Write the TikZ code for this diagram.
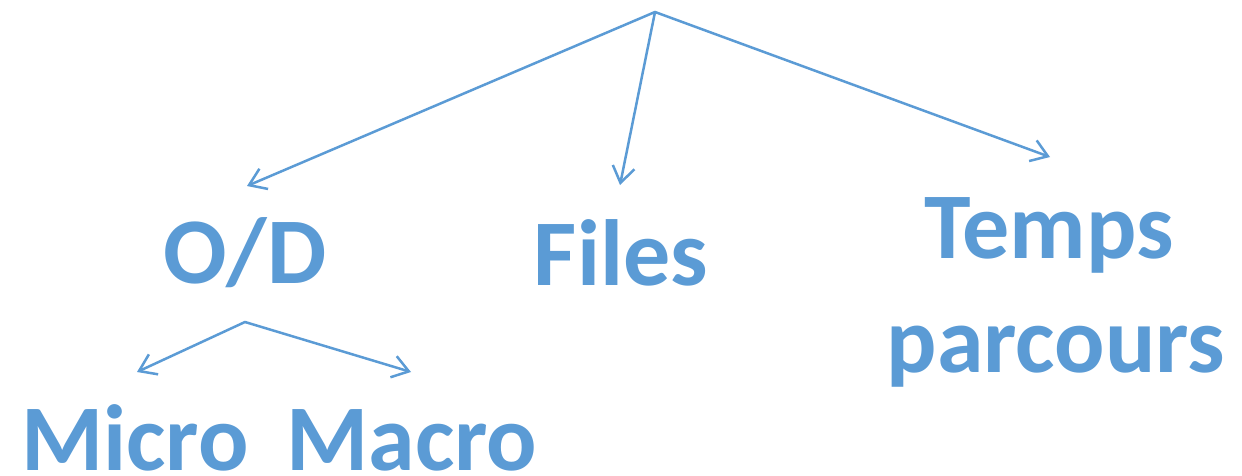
\documentclass[tikz,border=0pt]{standalone}
\usepackage{fontspec}
\setmainfont{Carlito}
\usetikzlibrary{arrows.meta}
\definecolor{acc}{HTML}{5B9BD5}
\begin{document}
\begin{tikzpicture}[x=1pt,y=-1pt,
  conn/.style={draw=acc, line width=2.5pt, line cap=round, line join=round,
    -{Straight Barb[length=16pt,width=22pt,line width=2.5pt]}},
  lbl/.style={text=acc, font=\fontsize{94}{114}\selectfont\bfseries, inner sep=0pt, anchor=base}]
\useasboundingbox (0,0) rectangle (1242,476);
\node[lbl] (od) at (245,283) {O/D};
\node[lbl] (files) at (621,285) {Files};
\node[lbl] (temps) at (1049,258) {Temps};
\node[lbl] (parcours) at (1056,372) {parcours};
\node[lbl] (micro) at (135,470) {Micro};
\node[lbl] (macro) at (412,470) {Macro};
\coordinate (top) at (655,12);
\coordinate (odend) at (247,186);
\coordinate (filesend) at (620,185);
\coordinate (tempsend) at (1050,157);
\coordinate (odtop) at (245,322);
\coordinate (microend) at (137,372);
\coordinate (macroend) at (411,372);
\draw[conn] (top) -- (odend);
\draw[conn] (top) -- (filesend);
\draw[conn] (top) -- (tempsend);
\draw[conn] (odtop) -- (microend);
\draw[conn] (odtop) -- (macroend);
\end{tikzpicture}
\end{document}
